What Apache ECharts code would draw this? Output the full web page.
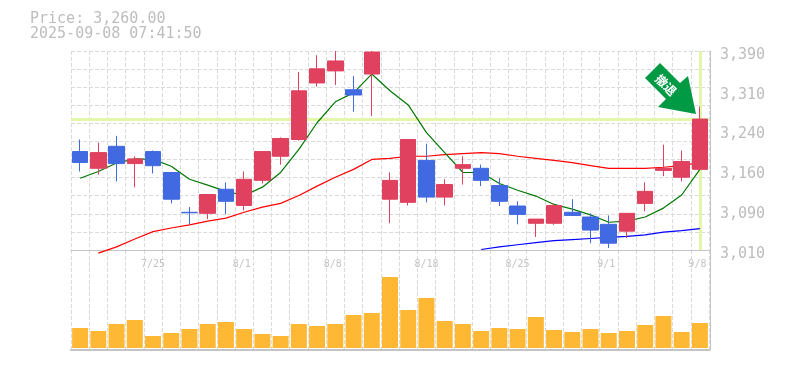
<!DOCTYPE html>
<html>
<head>
<meta charset="utf-8">
<style>html,body{margin:0;padding:0;background:#fff}#c{width:785px;height:370px}</style>
<script src="https://cdn.jsdelivr.net/npm/echarts@6/dist/echarts.min.js"></script>
</head>
<body>
<div id="c"></div>
<script>
const dates = ['7/18','7/22','7/23','7/24','7/25','7/28','7/29','7/30','7/31','8/1','8/4','8/5','8/6','8/7','8/8','8/12','8/13','8/14','8/15','8/18','8/19','8/20','8/21','8/22','8/25','8/26','8/27','8/28','8/29','9/1','9/2','9/3','9/4','9/5','9/8'];
const opens  = [3198,3166,3208,3175,3198,3158,3082,3080,3126,3095,3143,3189,3221,3329,3352,3316,3346,3107,3101,3181,3111,3166,3166,3133,3094,3061,3061,3082,3073,3059,3046,3099,3162,3149,3164];
const closes = [3177,3196,3175,3184,3171,3107,3081,3116,3103,3145,3198,3223,3314,3356,3371,3306,3388,3143,3221,3111,3135,3173,3143,3103,3078,3069,3095,3076,3048,3023,3080,3122,3166,3179,3260];
const lows   = [3160,3154,3141,3130,3156,3099,3059,3069,3078,3086,3137,3173,3219,3322,3325,3274,3266,3061,3095,3101,3095,3135,3132,3094,3059,3035,3058,3075,3023,3014,3033,3084,3151,3141,3164];
const highs  = [3221,3215,3228,3189,3200,3158,3092,3116,3139,3160,3198,3225,3350,3382,3390,3342,3390,3158,3221,3213,3145,3189,3173,3147,3103,3069,3099,3107,3080,3076,3080,3139,3211,3200,3284];
const maShort = [3147,3160,3176,3184,3183,3170,3145,3134,3122,3114,3130,3158,3202,3253,3293,3310,3346,3314,3287,3234,3196,3158,3158,3137,3124,3113,3097,3088,3077,3063,3065,3073,3090,3115,3164];
const maMid = [null,3004,3016,3031,3045,3052,3058,3065,3071,3082,3092,3099,3114,3132,3149,3164,3183,3185,3189,3189,3192,3194,3196,3194,3189,3185,3181,3177,3171,3166,3166,3166,3168,3171,3177];
const maLong = [null,null,null,null,null,null,null,null,null,null,null,null,null,null,null,null,null,null,null,null,null,null,3011,3016,3020,3024,3028,3030,3032,3034,3036,3039,3044,3047,3051];
const volumes = [20,17,24,28,12,15,19,24,26,19,14,12,24,22,24,33,35,71,38,50,27,24,17,20,19,31,18,16,19,15,17,23,32,16,25];
const priceTicks = [3010,3086,3162,3238,3314,3390];
const priceTickLabels = ['3,010','3,090','3,160','3,240','3,310','3,390'];
const lastPrice = 3260;
const lastIndex = 34;
const titleLines = ['Price: 3,260.00','2025-09-08 07:41:50'];
const signalText = '撤退';

const GRID = '#dadada', AXIS = '#c4c4c4', TXT = '#bdbdbd', HILITE = '#e4f6aa';
const MONO = '"DejaVu Sans Mono", monospace';
const candles = dates.map((_, i) => [opens[i], closes[i], lows[i], highs[i]]);
const dash = {color: GRID, width: 1, type: [4, 2]};

const chart = echarts.init(document.getElementById('c'), null, {renderer: 'canvas'});
chart.setOption({
  animation: false,
  backgroundColor: '#fff',
  title: {
    text: titleLines.join('\n'), left: 30, top: 12, padding: 0,
    textStyle: {fontFamily: MONO, fontSize: 15, fontWeight: 'normal', color: TXT, lineHeight: 15}
  },
  grid: [
    {left: 71, right: 76, top: 51, height: 199},
    {left: 71, right: 76, top: 250, height: 100}
  ],
  xAxis: [
    {
      type: 'category', gridIndex: 0, data: dates, boundaryGap: true,
      axisLine: {show: true, onZero: false, lineStyle: {color: AXIS, width: 1}},
      axisTick: {show: false},
      axisLabel: {
        interval: i => i % 5 === 4, margin: 9, fontFamily: MONO, fontSize: 10, color: '#c4c4c4', hideOverlap: false,
        formatter: v => v.length < 4 ? '{s|' + v + '}' : v,
        rich: {s: {fontFamily: MONO, fontSize: 10, color: '#c4c4c4', padding: [0, 5, 0, 0]}}
      },
      splitLine: {show: true, interval: 0, lineStyle: dash}
    },
    {
      type: 'category', gridIndex: 1, data: dates, boundaryGap: true,
      axisLine: {show: true, onZero: false, lineStyle: {color: AXIS, width: 2}},
      axisTick: {show: false}, axisLabel: {show: false},
      splitLine: {show: true, interval: 0, lineStyle: dash}
    }
  ],
  yAxis: [
    {
      type: 'value', gridIndex: 0, position: 'right', offset: 1, min: 3010, max: 3390, scale: true,
      axisLine: {show: true, lineStyle: {color: AXIS, width: 1}},
      axisTick: {show: false},
      splitLine: {show: false},
      axisLabel: {
        customValues: priceTicks,
        margin: 10, fontFamily: MONO, fontSize: 15, color: TXT, verticalAlign: 'top', lineHeight: 8,
        formatter: v => priceTickLabels[priceTicks.indexOf(v)]
      }
    },
    {
      type: 'value', gridIndex: 0, position: 'left', min: 0, max: 11, interval: 1,
      axisLine: {show: false}, axisTick: {show: false}, axisLabel: {show: false},
      splitLine: {show: true, lineStyle: dash}
    },
    {
      type: 'value', gridIndex: 1, position: 'right', offset: 1, min: -2, max: 98,
      axisLine: {show: true, lineStyle: {color: AXIS, width: 1}},
      axisTick: {show: false}, axisLabel: {show: false}, splitLine: {show: false}
    }
  ],
  series: [
    {
      type: 'line', xAxisIndex: 0, yAxisIndex: 0, data: [], z: 1, silent: true,
      markLine: {
        z: 1, silent: true, symbol: 'none', label: {show: false}, animation: false,
        lineStyle: {color: HILITE, width: 3, type: 'solid'},
        data: [{yAxis: lastPrice}, {xAxis: lastIndex}]
      }
    },
    {type: 'line', name: 'MA long', xAxisIndex: 0, yAxisIndex: 0, data: maLong, z: 3, showSymbol: false, clip: false, lineStyle: {color: '#0000ff', width: 1.2}},
    {type: 'line', name: 'MA mid', xAxisIndex: 0, yAxisIndex: 0, data: maMid, z: 3, showSymbol: false, clip: false, lineStyle: {color: '#ff0000', width: 1.2}},
    {type: 'line', name: 'MA short', xAxisIndex: 0, yAxisIndex: 0, data: maShort, z: 3, showSymbol: false, clip: false, lineStyle: {color: '#007700', width: 1.2}},
    {
      type: 'candlestick', xAxisIndex: 0, yAxisIndex: 0, data: candles, z: 5, barWidth: 16,
      itemStyle: {color: '#e0415f', color0: '#4169e1', borderColor: '#e0415f', borderColor0: '#4169e1', borderWidth: 1}
    },
    {
      type: 'bar', xAxisIndex: 1, yAxisIndex: 2, data: volumes, barWidth: 16,
      itemStyle: {color: '#ffb833'}
    }
  ],
  graphic: [
    {
      type: 'polygon', z: 20,
      shape: {points: [[660,63],[680,83],[688,76],[696,114],[658,107],[666,99],[645,78]]},
      style: {fill: '#009944'}
    },
    {
      type: 'text', z: 21, x: 666, y: 85, rotation: -Math.PI / 4,
      style: {text: signalText, fill: '#fff', font: 'bold 12px "Noto Sans CJK JP"', align: 'center', verticalAlign: 'middle'}
    }
  ]
});
</script>
</body>
</html>
